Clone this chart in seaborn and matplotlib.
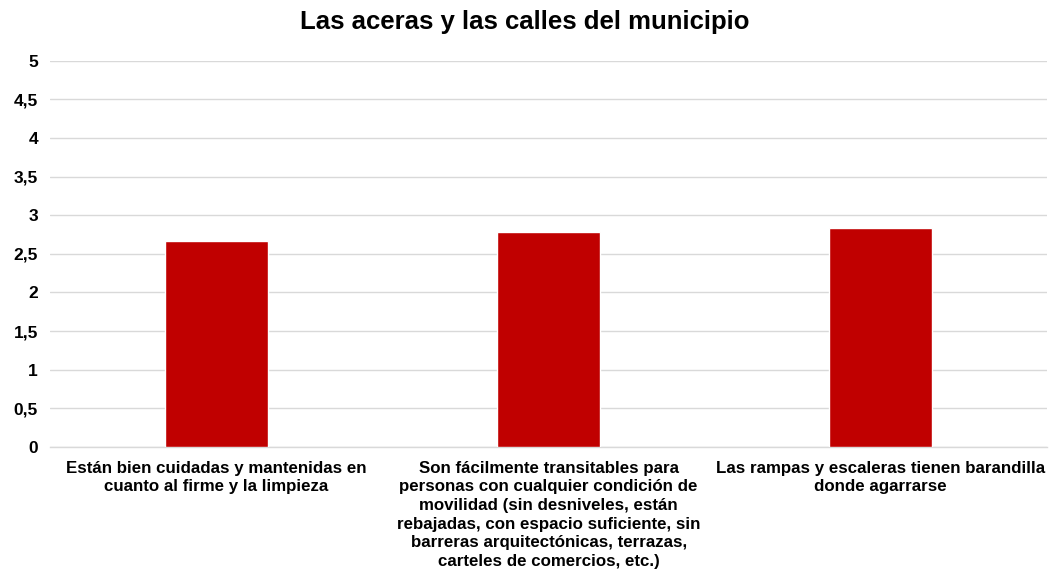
import matplotlib
matplotlib.use("Agg")
import matplotlib.pyplot as plt
import seaborn as sns
import pandas as pd
from matplotlib.ticker import MultipleLocator, FuncFormatter

categories = [
    "Están bien cuidadas y mantenidas en\ncuanto al firme y la limpieza",
    "Son fácilmente transitables para\npersonas con cualquier condición de\nmovilidad (sin desniveles, están\nrebajadas, con espacio suficiente, sin\nbarreras arquitectónicas, terrazas,\ncarteles de comercios, etc.)",
    "Las rampas y escaleras tienen barandilla\ndonde agarrarse",
]
values = [2.67, 2.78, 2.83]
title = "Las aceras y las calles del municipio"

sns.set_theme(style="white")
plt.rcParams['font.family'] = ['Liberation Sans', 'DejaVu Sans']

df = pd.DataFrame({"cat": categories, "val": values})

fig = plt.figure(figsize=(10.5, 5.73), dpi=100)
ax = fig.add_axes([0.048, 0.22, 0.949, 0.674])
sns.barplot(data=df, x="cat", y="val", color="#C00000", width=0.31,
            saturation=1, ax=ax, zorder=3)

ax.set_ylim(0, 5)
ax.yaxis.set_major_locator(MultipleLocator(0.5))
ax.yaxis.set_major_formatter(FuncFormatter(lambda v, p: f"{v:g}".replace(".", ",")))
ax.grid(axis="y", color="#D9D9D9", linewidth=1, zorder=0)
for s in ["top", "right", "left"]:
    ax.spines[s].set_visible(False)
ax.spines["bottom"].set_color("#D9D9D9")
ax.spines["bottom"].set_linewidth(1)
ax.set_xlabel("")
ax.set_ylabel("")
ax.tick_params(axis="y", length=0, labelsize=12.5, pad=9)
ax.tick_params(axis="x", length=0, labelsize=12.2, pad=10)
for lab in ax.get_yticklabels() + ax.get_xticklabels():
    lab.set_fontweight("bold")
    lab.set_color("black")
for lab in ax.get_xticklabels():
    lab.set_linespacing(1.3)
    lab.set_verticalalignment("top")

fig.text(0.5, 0.962, title, ha="center", va="center", fontsize=18.5,
         fontweight="bold", color="black")
fig.savefig("out.png", dpi=100)
